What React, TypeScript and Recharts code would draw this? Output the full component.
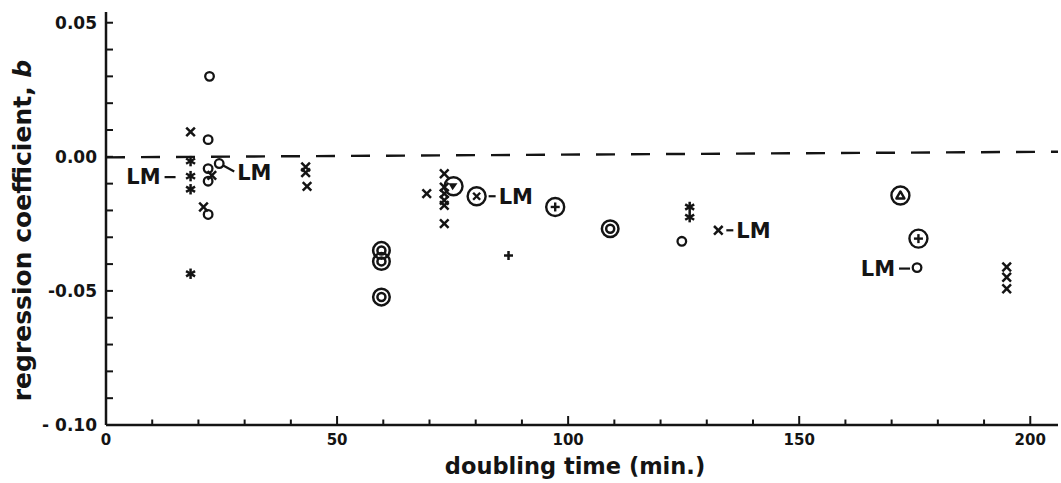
import { ScatterChart, Scatter, XAxis, YAxis, ReferenceLine, Label } from 'recharts';

const INK = '#141414';
const FONT = '"DejaVu Sans", Verdana, sans-serif';

const X_TICKS = [0, 10, 20, 30, 40, 50, 60, 70, 80, 90, 100, 110, 120, 130, 140, 150, 160, 170, 180, 190, 200];
const Y_TICKS = [-0.1, -0.09, -0.08, -0.07, -0.06, -0.05, -0.04, -0.03, -0.02, -0.01, 0, 0.01, 0.02, 0.03, 0.04, 0.05];
const X_LABELS = [0, 50, 100, 150, 200];
const Y_LABELS: Record<string, string> = { '-10': '- 0.10', '-5': '-0.05', '0': '0.00', '5': '0.05' };

// doubling time (min.), regression coefficient b
const crosses = [
  [18.3, 0.0093], [22.9, -0.0069], [21.1, -0.0187],
  [43.2, -0.0038], [43.2, -0.0059], [43.5, -0.011],
  [69.4, -0.0137], [73.2, -0.0063], [73.2, -0.0113], [73.2, -0.0137],
  [73.2, -0.0162], [73.2, -0.0181], [73.2, -0.0249],
  [132.5, -0.0274],
  [194.9, -0.0411], [194.9, -0.0449], [194.9, -0.0492],
];
const stars = [
  [18.3, -0.0016], [18.3, -0.0072], [18.3, -0.0121], [18.3, -0.0436],
  [126.3, -0.0187], [126.3, -0.0225],
];
const circles = [
  [22.4, 0.03], [22.1, 0.0064], [22.1, -0.0044], [22.1, -0.0091], [22.1, -0.0215],
  [24.5, -0.0025], [124.6, -0.0315], [175.5, -0.0413],
];
const doubleCircles = [[59.6, -0.0349], [59.6, -0.039], [59.6, -0.0523], [109.1, -0.0268]];
const circledPlus = [[97.2, -0.0187], [175.8, -0.0305]];
const circledCross = [[80.2, -0.0147]];
const circledTriangle = [[171.9, -0.0144]];
const circledWedge = [[75.2, -0.011]];
const plusses = [[87.1, -0.0368]];

// "LM" annotations, anchored on the marked point
const lmLeft = [[18.3, -0.0072], [175.5, -0.0413]];
const lmRight = [[80.2, -0.0147], [132.5, -0.0274]];
const lmLeader = [[24.5, -0.0025]];

const toPts = (a: number[][]) => a.map(([x, y]) => ({ x, y }));

function Marker({ kind, cx, cy }: { kind: string; cx: number; cy: number }) {
  const sw = 2.5;
  if (kind === 'cross') {
    const s = 4.3;
    return (
      <g stroke={INK} strokeWidth={sw}>
        <line x1={cx - s} y1={cy - s} x2={cx + s} y2={cy + s} />
        <line x1={cx - s} y1={cy + s} x2={cx + s} y2={cy - s} />
      </g>
    );
  }
  if (kind === 'star') {
    const s = 5.2;
    const dx = s * 0.866;
    const dy = s * 0.5;
    return (
      <g stroke={INK} strokeWidth={sw}>
        <line x1={cx} y1={cy - s} x2={cx} y2={cy + s} />
        <line x1={cx - dx} y1={cy - dy} x2={cx + dx} y2={cy + dy} />
        <line x1={cx - dx} y1={cy + dy} x2={cx + dx} y2={cy - dy} />
      </g>
    );
  }
  if (kind === 'plus') {
    const s = 4.5;
    return (
      <g stroke={INK} strokeWidth={sw}>
        <line x1={cx - s} y1={cy} x2={cx + s} y2={cy} />
        <line x1={cx} y1={cy - s} x2={cx} y2={cy + s} />
      </g>
    );
  }
  if (kind === 'circle') {
    return <circle cx={cx} cy={cy} r={4.3} fill="none" stroke={INK} strokeWidth={2.3} />;
  }
  if (kind === 'double') {
    return (
      <g fill="none" stroke={INK} strokeWidth={2.5}>
        <circle cx={cx} cy={cy} r={8.3} />
        <circle cx={cx} cy={cy} r={4} />
      </g>
    );
  }
  const ring = <circle cx={cx} cy={cy} r={9} fill="none" stroke={INK} strokeWidth={2.4} />;
  if (kind === 'cplus') {
    return (
      <g stroke={INK} strokeWidth={2.4}>
        {ring}
        <line x1={cx - 4.5} y1={cy} x2={cx + 4.5} y2={cy} />
        <line x1={cx} y1={cy - 4.5} x2={cx} y2={cy + 4.5} />
      </g>
    );
  }
  if (kind === 'ccross') {
    return (
      <g stroke={INK} strokeWidth={2.4}>
        {ring}
        <line x1={cx - 3.5} y1={cy - 3.5} x2={cx + 3.5} y2={cy + 3.5} />
        <line x1={cx - 3.5} y1={cy + 3.5} x2={cx + 3.5} y2={cy - 3.5} />
      </g>
    );
  }
  if (kind === 'ctri') {
    return (
      <g>
        {ring}
        <polygon
          points={`${cx},${cy - 4} ${cx + 4},${cy + 3} ${cx - 4},${cy + 3}`}
          fill="none"
          stroke={INK}
          strokeWidth={2.4}
          strokeLinejoin="round"
        />
      </g>
    );
  }
  // circle with filled wedge
  return (
    <g>
      {ring}
      <polygon points={`${cx - 5},${cy - 3} ${cx + 4},${cy - 3} ${cx - 1},${cy + 4}`} fill={INK} />
    </g>
  );
}

const shapeOf = (kind: string) => (p: any) => <Marker kind={kind} cx={p.cx} cy={p.cy} />;

const lmText = { fontFamily: FONT, fontWeight: 700, fontSize: 21, fill: INK };

const LmLeftShape = (p: any) => {
  const gap = p.index === 0 ? 15 : 7;
  return (
    <g>
      <line x1={p.cx - gap - 11} y1={p.cy + 1} x2={p.cx - gap} y2={p.cy + 1} stroke={INK} strokeWidth={2.2} />
      <text x={p.cx - gap - 15} y={p.cy + 8} textAnchor="end" {...lmText}>LM</text>
    </g>
  );
};

const LmRightShape = (p: any) => {
  const gap = p.index === 0 ? 12 : 8;
  return (
    <g>
      <line x1={p.cx + gap} y1={p.cy} x2={p.cx + gap + 7} y2={p.cy} stroke={INK} strokeWidth={2.2} />
      <text x={p.cx + gap + 10} y={p.cy + 8} {...lmText}>LM</text>
    </g>
  );
};

const LmLeaderShape = (p: any) => (
  <g>
    <line x1={p.cx + 4} y1={p.cy + 2} x2={p.cx + 15} y2={p.cy + 8} stroke={INK} strokeWidth={2.2} />
    <text x={p.cx + 18} y={p.cy + 16} {...lmText}>LM</text>
  </g>
);

const XTick = (p: any) => {
  const v = p.payload.value;
  const major = v % 50 === 0;
  return (
    <g>
      {v > 0 && <line x1={p.x} y1={p.y} x2={p.x} y2={p.y - (major ? 9 : 5.5)} stroke={INK} strokeWidth={2} />}
      {X_LABELS.includes(v) && (
        <text x={p.x} y={p.y + 20} textAnchor="middle" fontFamily={FONT} fontWeight={700} fontSize={15} fill={INK}>
          {v}
        </text>
      )}
    </g>
  );
};

const YTick = (p: any) => {
  const key = String(Math.round(p.payload.value * 100));
  const label = Y_LABELS[key];
  return (
    <g>
      {key !== '-10' && <line x1={p.x} y1={p.y} x2={p.x + 7} y2={p.y} stroke={INK} strokeWidth={2} />}
      {label && (
        <text x={p.x - 9} y={p.y + 6} textAnchor="end" fontFamily={FONT} fontWeight={700} fontSize={17} fill={INK}>
          {label}
        </text>
      )}
    </g>
  );
};

const YTitle = (p: any) => {
  const vb = p.viewBox;
  const cx = vb.x - 4;
  const cy = vb.y + vb.height / 2 + 12;
  return (
    <text
      x={cx}
      y={cy}
      transform={`rotate(-90 ${cx} ${cy})`}
      textAnchor="middle"
      dominantBaseline="central"
      fontFamily={FONT}
      fontWeight={700}
      fontSize={25}
      fill={INK}
    >
      regression coefficient, <tspan fontStyle="italic">b</tspan>
    </text>
  );
};

const XTitle = (p: any) => {
  const vb = p.viewBox;
  return (
    <text x={575} y={vb.y + 49} textAnchor="middle" fontFamily={FONT} fontWeight={700} fontSize={22.5} fill={INK}>
      doubling time (min.)
    </text>
  );
};

const SERIES: [string, number[][]][] = [
  ['cross', crosses],
  ['star', stars],
  ['circle', circles],
  ['double', doubleCircles],
  ['cplus', circledPlus],
  ['ccross', circledCross],
  ['ctri', circledTriangle],
  ['cwedge', circledWedge],
  ['plus', plusses],
];

export default function App() {
  return (
    <div style={{ position: 'absolute', left: 0, top: 0, background: '#fff' }}>
      <ScatterChart width={1061} height={483} margin={{ top: 12, right: 3, bottom: 0, left: 26 }}>
        <XAxis
          type="number"
          dataKey="x"
          domain={[0, 206]}
          ticks={X_TICKS}
          interval={0}
          allowDataOverflow
          height={58}
          tickSize={0}
          tickMargin={0}
          tickLine={false}
          tick={XTick}
          axisLine={{ stroke: INK, strokeWidth: 2.5 }}
        >
          <Label content={XTitle} />
        </XAxis>
        <YAxis
          type="number"
          dataKey="y"
          domain={[-0.1, 0.054]}
          ticks={Y_TICKS}
          interval={0}
          allowDataOverflow
          width={80}
          tickSize={0}
          tickMargin={0}
          tickLine={false}
          tick={YTick}
          axisLine={{ stroke: INK, strokeWidth: 2.5 }}
        >
          <Label content={YTitle} />
        </YAxis>
        <ReferenceLine
          segment={[{ x: 0, y: -0.0002 }, { x: 206, y: 0.0019 }]}
          stroke={INK}
          strokeWidth={2.4}
          strokeDasharray="19 16"
        />
        {SERIES.map(([kind, data]) => (
          <Scatter key={kind} data={toPts(data)} shape={shapeOf(kind)} isAnimationActive={false} />
        ))}
        <Scatter data={toPts(lmLeft)} shape={LmLeftShape} isAnimationActive={false} />
        <Scatter data={toPts(lmRight)} shape={LmRightShape} isAnimationActive={false} />
        <Scatter data={toPts(lmLeader)} shape={LmLeaderShape} isAnimationActive={false} />
      </ScatterChart>
    </div>
  );
}
